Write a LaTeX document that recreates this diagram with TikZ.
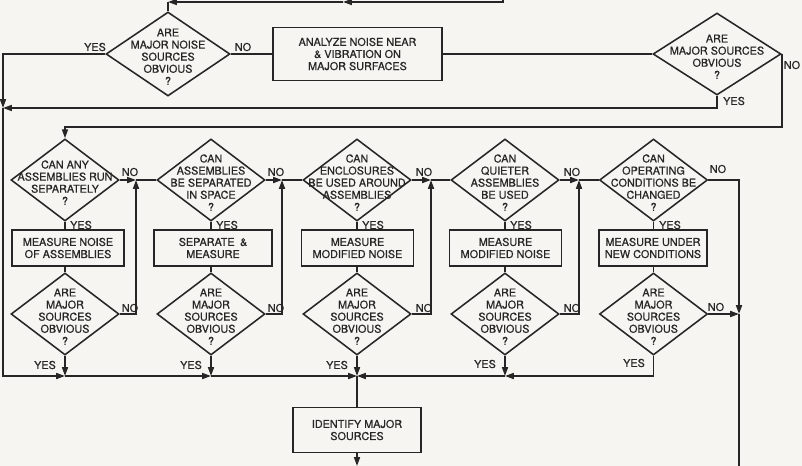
\documentclass[tikz,border=0pt]{standalone}
\usepackage{fontspec}
\setmainfont{TeX Gyre Heros}[FakeBold=0.7]
\usepackage{xcolor}
\usepackage{tikz}
\usetikzlibrary{arrows.meta,positioning,shapes.geometric}
\definecolor{Ink}{HTML}{262626}
\definecolor{Paper}{HTML}{F6F5F1}
\newcommand{\dtxt}[1]{\makebox[0pt]{\smash{\raisebox{-5pt}{\begin{tabular}{@{}c@{}}#1\end{tabular}}}}}
\tikzset{
  ask/.style={diamond,draw=Ink,line width=1.1pt,inner sep=0pt,minimum width=2.7cm,minimum height=2.05cm,text=Ink},
  act/.style={draw=Ink,line width=1.1pt,minimum width=2.8cm,minimum height=.9cm,align=center,inner sep=.05cm,text=Ink},
  flow/.style={-{Triangle[length=2.2mm,width=1.5mm]},draw=Ink,line width=1.1pt},
  wire/.style={draw=Ink,line width=1.1pt},
  tag/.style={text=Ink,inner sep=0pt}
}

\begin{document}
\begin{tikzpicture}[x=.025cm,y=-.025cm,font=\fontsize{7.7pt}{8.6pt}\selectfont]
  \fill[Paper] (0,0) rectangle (802,466);
  \useasboundingbox (0,0) rectangle (802,466);
  % top stage
  \node[ask,minimum width=3.1cm,minimum height=2.1cm] (q0) at (168,54) {\dtxt{ARE\\MAJOR NOISE\\SOURCES\\OBVIOUS\\?}};
  \node[act,minimum width=4.225cm,minimum height=1.325cm] (an) at (357.5,54) {ANALYZE NOISE NEAR\\\& VIBRATION ON\\MAJOR SURFACES};
  \node[ask,minimum width=3.2cm,minimum height=2.05cm] (q1) at (717,54) {\dtxt{ARE\\MAJOR SOURCES\\OBVIOUS\\?}};
  \node[tag] (y0) at (95,47) {YES};
  \node[tag] (n0) at (243,47) {NO};
  \node[tag] (y1) at (734,101) {YES};
  \node[tag] (n1t) at (792,65) {NO};
  % questions
  \node[ask] (a1) at (65,180) {\dtxt{CAN ANY\\ASSEMBLIES RUN\\SEPARATELY\\?}};
  \node[ask] (a2) at (211,180) {\dtxt{CAN\\ASSEMBLIES\\BE SEPARATED\\IN SPACE\\?}};
  \node[ask] (a3) at (357,180) {\dtxt{CAN\\ENCLOSURES\\BE USED AROUND\\ASSEMBLIES\\?}};
  \node[ask] (a4) at (505,180) {\dtxt{CAN\\QUIETER\\ASSEMBLIES\\BE USED\\?}};
  \node[ask] (a5) at (653.5,180) {\dtxt{CAN\\OPERATING\\CONDITIONS BE\\CHANGED\\?}};
  % measurements
  \node[act] (m1) at (68,248) {MEASURE NOISE\\OF ASSEMBLIES};
  \node[act,minimum width=2.95cm] (m2) at (213,248) {SEPARATE\enspace\&\\MEASURE};
  \node[act] (m3) at (357.5,248) {MEASURE\\MODIFIED NOISE};
  \node[act] (m4) at (505.5,248) {MEASURE\\MODIFIED NOISE};
  \node[act,minimum width=2.7cm] (m5) at (653,248) {MEASURE UNDER\\NEW CONDITIONS};
  % checks
  \node[ask] (b1) at (65,314) {\dtxt{ARE\\MAJOR\\SOURCES\\OBVIOUS\\?}};
  \node[ask] (b2) at (211,314) {\dtxt{ARE\\MAJOR\\SOURCES\\OBVIOUS\\?}};
  \node[ask] (b3) at (357,314) {\dtxt{ARE\\MAJOR\\SOURCES\\OBVIOUS\\?}};
  \node[ask] (b4) at (505,314) {\dtxt{ARE\\MAJOR\\SOURCES\\OBVIOUS\\?}};
  \node[ask] (b5) at (653.5,314) {\dtxt{ARE\\MAJOR\\SOURCES\\OBVIOUS\\?}};
  \node[act,minimum width=3.2cm,minimum height=1.125cm] (id) at (357,430) {IDENTIFY MAJOR\\SOURCES};
  % answer tags
  \node[tag] (ya1) at (81,225) {YES};
  \node[tag] (ya2) at (227,225) {YES};
  \node[tag] (ya3) at (373,225) {YES};
  \node[tag] (ya4) at (521,225) {YES};
  \node[tag] (ya5) at (670,225) {YES};
  \node[tag] (na1) at (130,172) {NO};
  \node[tag] (na2) at (276,172) {NO};
  \node[tag] (na3) at (424,172) {NO};
  \node[tag] (na4) at (572,172) {NO};
  \node[tag] (na5) at (718,169) {NO};
  \node[tag] (nb1) at (130,308) {NO};
  \node[tag] (nb2) at (276,308) {NO};
  \node[tag] (nb3) at (424,308) {NO};
  \node[tag] (nb4) at (572,308) {NO};
  \node[tag] (nb5) at (716,307) {NO};
  \node[tag] (yb1) at (45,365) {YES};
  \node[tag] (yb2) at (191,365) {YES};
  \node[tag] (yb3) at (337,365) {YES};
  \node[tag] (yb4) at (485,364) {YES};
  \node[tag] (yb5) at (634,363) {YES};
  % junctions
  \coordinate (t0) at (503,0);
  \coordinate (t1) at (343,2);
  \coordinate (t2) at (168,2);
  \coordinate (back) at (65,127);
  \coordinate (jl) at (3,108);
  \coordinate (k1) at (136,180);
  \coordinate (k2) at (282,180);
  \coordinate (k3) at (431,180);
  \coordinate (k4) at (579,180);
  \coordinate (r5) at (739,314);
  \coordinate (j1) at (65,376);
  \coordinate (j2) at (211,376);
  \coordinate (j3) at (357,376);
  \coordinate (j4) at (505,376);
  \coordinate (o1) at (357,466);
  \coordinate (o2) at (739,466);
  % connectors
  \draw[flow] (t0) |- (t1);
  \draw[flow] (t1) -- (t2);
  \draw[wire] (t2) -- (q0);
  \draw[wire] (q0.east) -- (an.west);
  \draw[wire] (an.east) -- (q1.west);
  \draw[flow] (q0.west) -| (jl);
  \draw[flow] (q1.south) |- (jl);
  \draw[flow] (q1.east) |- (back) -- (a1);
  \draw[flow] (jl) |- (j1);
  \draw[flow] (a1.east) -- (k1);
  \draw[flow] (a2.east) -- (k2);
  \draw[flow] (a3.east) -- (k3);
  \draw[flow] (a4.east) -- (k4);
  \draw[wire] (k1) -- (a2.west);
  \draw[wire] (k2) -- (a3.west);
  \draw[wire] (k3) -- (a4.west);
  \draw[wire] (k4) -- (a5.west);
  \draw[flow] (b1.east) -| (k1);
  \draw[flow] (b2.east) -| (k2);
  \draw[flow] (b3.east) -| (k3);
  \draw[flow] (b4.east) -| (k4);
  \draw[flow] (a5.east) -| (r5);
  \draw[flow] (b5.east) -- (r5);
  \draw[wire] (r5) -- (o2);
  \draw[wire] (a1.south) -- (a1.south |- m1.north);
  \draw[wire] (a2.south) -- (a2.south |- m2.north);
  \draw[wire] (a3.south) -- (a3.south |- m3.north);
  \draw[wire] (a4.south) -- (a4.south |- m4.north);
  \draw[wire] (a5.south) -- (a5.south |- m5.north);
  \draw[wire] (b1.north |- m1.south) -- (b1.north);
  \draw[wire] (b2.north |- m2.south) -- (b2.north);
  \draw[wire] (b3.north |- m3.south) -- (b3.north);
  \draw[wire] (b4.north |- m4.south) -- (b4.north);
  \draw[wire] (b5.north |- m5.south) -- (b5.north);
  \draw[flow] (b1.south) -- (j1);
  \draw[flow] (b2.south) -- (j2);
  \draw[flow] (b3.south) -- (j3);
  \draw[flow] (b4.south) -- (j4);
  \draw[flow] (j1) -- (j2);
  \draw[flow] (j2) -- (j3);
  \draw[flow] (b5.south) |- (j4);
  \draw[flow] (j4) -- (j3);
  \draw[wire] (j3) -- (id);
  \draw[flow] (id) -- (o1);
\end{tikzpicture}
\end{document}
